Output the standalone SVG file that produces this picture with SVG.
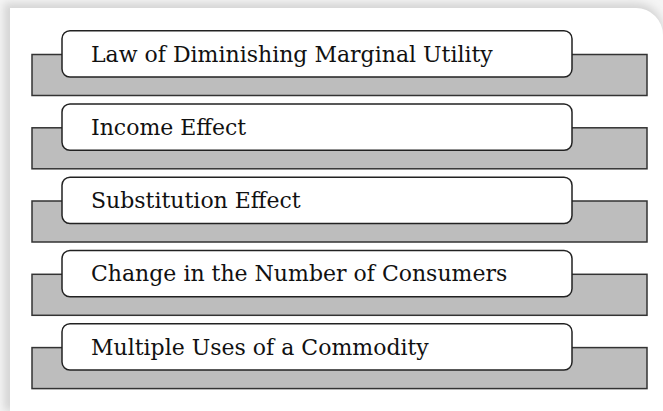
<svg xmlns="http://www.w3.org/2000/svg" width="663" height="411" viewBox="0 0 663 411">
<defs>
<filter id="sh" x="-10%" y="-10%" width="120%" height="120%">
<feGaussianBlur stdDeviation="4"/>
</filter>
<style>
.bar{fill:#bdbdbd;stroke:#333;stroke-width:1.5}
.box{fill:#fff;stroke:#222;stroke-width:1.5}
.lbl{font-family:"DejaVu Serif","Liberation Serif",serif;font-size:22px;fill:#111}
</style>
</defs>
<rect width="663" height="411" fill="#f5f5f5"/>
<path d="M4,3 H636 A27,27 0 0 1 663,30 V411 H4 Z" fill="#d4d4d4" filter="url(#sh)"/>
<path id="panel" d="M10,8 H636 A27,27 0 0 1 663,35 V411 H10 Z" fill="#fff"/>
<g id="n1"><rect class="bar" x="32" y="54.5" width="615" height="41"/><rect class="box" x="62" y="30.7" width="510" height="46.3" rx="8"/><text class="lbl" x="91" y="61.5">Law of Diminishing Marginal Utility</text></g>
<g id="n2"><rect class="bar" x="32" y="127.8" width="615" height="41"/><rect class="box" x="62" y="104" width="510" height="46.3" rx="8"/><text class="lbl" x="91" y="134.8">Income Effect</text></g>
<g id="n3"><rect class="bar" x="32" y="201" width="615" height="41"/><rect class="box" x="62" y="177.2" width="510" height="46.3" rx="8"/><text class="lbl" x="91" y="208">Substitution Effect</text></g>
<g id="n4"><rect class="bar" x="32" y="274.3" width="615" height="41"/><rect class="box" x="62" y="250.5" width="510" height="46.3" rx="8"/><text class="lbl" x="91" y="281.3">Change in the Number of Consumers</text></g>
<g id="n5"><rect class="bar" x="32" y="347.6" width="615" height="41"/><rect class="box" x="62" y="323.7" width="510" height="46.3" rx="8"/><text class="lbl" x="91" y="354.5">Multiple Uses of a Commodity</text></g>
<g id="connectors"/>
</svg>
